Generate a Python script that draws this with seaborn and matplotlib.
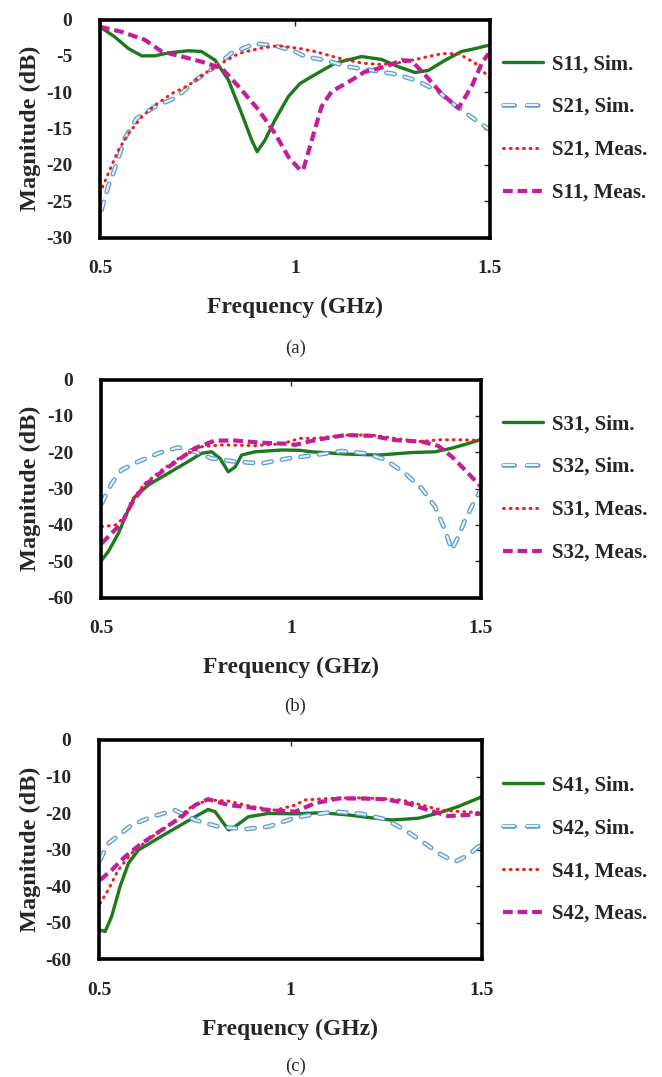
import numpy as np
import seaborn as sns
import matplotlib.pyplot as plt
import matplotlib.patheffects as pe
from matplotlib.lines import Line2D

# ---- panel (a) ----
a_s11_sim_f = [0.5, 0.538, 0.573, 0.607, 0.641, 0.675, 0.726, 0.76, 0.795, 0.829, 0.863, 0.889, 0.903, 0.923, 0.949,
               0.983, 1.013, 1.051, 1.103, 1.171, 1.222, 1.265, 1.308, 1.342, 1.385, 1.427, 1.462, 1.5]
a_s11_sim_db = [-1.0, -2.4, -4.0, -5.0, -5.0, -4.6, -4.3, -4.4, -5.6, -8.3, -12.9, -16.6, -18.2, -16.6, -13.8,
                -10.6, -8.8, -7.6, -6.0, -5.1, -5.5, -6.5, -7.3, -7.0, -5.6, -4.4, -4.0, -3.5]
a_s21_sim_f = [0.504, 0.521, 0.543, 0.564, 0.594, 0.641, 0.697, 0.744, 0.795, 0.838, 0.898, 0.949, 1.0,
               1.026, 1.077, 1.137, 1.197, 1.256, 1.312, 1.367, 1.41, 1.462, 1.5]
a_s21_sim_db = [-26.2, -23.0, -19.8, -16.3, -13.6, -12.0, -10.7, -8.4, -6.5, -4.6, -3.3, -3.6, -4.4,
                -5.1, -5.6, -6.5, -7.0, -7.5, -8.4, -9.9, -11.8, -13.8, -15.2]
a_s21_meas_f = [0.5, 0.521, 0.547, 0.573, 0.607, 0.641, 0.684, 0.726, 0.769, 0.812, 0.855, 0.906, 0.957, 1.013,
                1.051, 1.111, 1.171, 1.222, 1.274, 1.325, 1.376, 1.419, 1.462, 1.5]
a_s21_meas_db = [-23.9, -21.2, -18.0, -15.7, -13.4, -11.8, -10.2, -9.1, -7.4, -6.0, -4.7, -4.0, -3.6, -4.0,
                 -4.4, -5.3, -6.0, -6.2, -5.9, -5.3, -4.7, -4.7, -6.0, -8.1]
a_s11_meas_f = [0.5, 0.556, 0.615, 0.658, 0.71, 0.76, 0.812, 0.855, 0.906, 0.949, 0.983, 1.013, 1.021, 1.043,
                1.068, 1.094, 1.137, 1.179, 1.231, 1.274, 1.299, 1.333, 1.376, 1.419, 1.453, 1.479, 1.496]
a_s11_meas_db = [-1.0, -1.7, -2.8, -4.4, -5.1, -5.8, -6.7, -9.2, -12.4, -15.7, -18.9, -20.7, -20.7, -16.6,
                 -12.0, -9.9, -8.6, -7.2, -6.5, -5.6, -5.7, -7.6, -10.2, -12.2, -9.2, -6.0, -4.7]

# ---- panel (b) ----
b_s31_sim_f = [0.502, 0.519, 0.546, 0.568, 0.589, 0.625, 0.677, 0.721, 0.765, 0.791, 0.813, 0.835, 0.853, 0.87,
               0.905, 0.976, 1.024, 1.054, 1.142, 1.23, 1.318, 1.379, 1.423, 1.467, 1.5]
b_s31_sim_db = [-49.7, -47.4, -42.3, -36.8, -32.3, -29.0, -25.8, -23.1, -20.3, -19.9, -21.7, -25.4, -24.1, -20.8,
                -19.9, -19.4, -19.5, -19.9, -20.5, -20.8, -20.1, -19.9, -18.9, -17.6, -16.5]
b_s32_sim_f = [0.502, 0.528, 0.554, 0.598, 0.651, 0.703, 0.747, 0.791, 0.853, 0.923, 0.993, 1.063, 1.133,
               1.195, 1.247, 1.3, 1.344, 1.379, 1.405, 1.423, 1.44, 1.458, 1.484, 1.5]
b_s32_sim_db = [-34.1, -28.6, -24.9, -22.6, -20.3, -18.7, -19.9, -21.7, -22.6, -23.1, -21.7, -20.8, -19.7,
                -20.3, -22.0, -25.8, -30.0, -35.0, -41.4, -46.9, -43.3, -38.7, -33.2, -30.4]
b_s31_meas_f = [0.502, 0.537, 0.563, 0.581, 0.616, 0.66, 0.712, 0.765, 0.818, 0.905, 0.976, 1.024, 1.063,
                1.142, 1.212, 1.274, 1.335, 1.388, 1.449, 1.5]
b_s31_meas_db = [-40.5, -40.1, -37.8, -33.2, -28.6, -24.9, -21.2, -18.5, -18.0, -18.2, -17.7, -16.2, -16.2,
                 -15.3, -15.3, -16.2, -17.1, -16.6, -16.6, -16.8]
b_s32_meas_f = [0.502, 0.528, 0.554, 0.581, 0.616, 0.66, 0.703, 0.747, 0.8, 0.853, 0.923, 0.993, 1.011, 1.063,
                1.142, 1.212, 1.274, 1.344, 1.388, 1.423, 1.458, 1.5]
b_s32_meas_db = [-45.1, -42.3, -39.6, -34.1, -29.0, -25.4, -22.2, -18.9, -16.8, -16.8, -17.4, -17.7, -18.0, -16.7,
                 -15.3, -15.5, -16.7, -17.1, -18.3, -21.2, -24.9, -29.5]

# ---- panel (c) ----
c_s41_sim_f = [0.503, 0.516, 0.533, 0.555, 0.577, 0.603, 0.646, 0.698, 0.751, 0.785, 0.803, 0.838, 0.855, 0.89,
               0.942, 1.012, 1.081, 1.151, 1.212, 1.264, 1.334, 1.386, 1.438, 1.5]
c_s41_sim_db = [-52.0, -52.4, -48.3, -40.1, -33.7, -30.1, -27.4, -24.2, -21.0, -19.0, -19.6, -24.6, -23.7, -21.0,
                -20.1, -20.2, -19.9, -20.5, -21.3, -21.9, -21.4, -20.0, -18.2, -15.5]
c_s42_sim_f = [0.503, 0.524, 0.546, 0.585, 0.638, 0.698, 0.751, 0.811, 0.881, 0.942, 1.012, 1.047, 1.116, 1.186,
               1.247, 1.299, 1.351, 1.395, 1.43, 1.464, 1.5]
c_s42_sim_db = [-32.8, -28.3, -26.5, -23.3, -21.0, -19.2, -21.9, -23.7, -24.4, -23.7, -21.3, -20.6, -19.6, -20.2,
                -21.7, -24.6, -28.3, -31.5, -33.3, -31.5, -28.3]
c_s41_meas_f = [0.503, 0.524, 0.55, 0.585, 0.638, 0.69, 0.742, 0.785, 0.838, 0.899, 0.96, 1.012, 1.038, 1.099,
                1.168, 1.229, 1.29, 1.343, 1.395, 1.447, 1.5]
c_s41_meas_db = [-44.7, -41.0, -35.6, -31.0, -26.5, -22.8, -18.2, -16.4, -16.7, -18.2, -19.2, -17.8, -16.4, -16.0,
                 -15.8, -16.0, -16.4, -17.8, -19.2, -19.6, -19.9]
c_s42_meas_f = [0.503, 0.533, 0.568, 0.611, 0.664, 0.716, 0.751, 0.785, 0.838, 0.89, 0.942, 1.012, 1.064, 1.125,
                1.186, 1.247, 1.308, 1.36, 1.412, 1.464, 1.5]
c_s42_meas_db = [-38.3, -35.6, -31.9, -28.3, -24.6, -21.0, -17.8, -16.2, -17.8, -18.4, -19.2, -19.6, -17.3, -16.0,
                 -16.0, -16.2, -17.4, -19.2, -20.8, -20.5, -20.1]

x_ticks = [0.5, 1, 1.5]
x_ticklabels = ['0.5', '1', '1.5']

panels = [
    ('(a)', (-30, 0), 5,
     [(a_s11_sim_f, a_s11_sim_db, 'S11, Sim.'), (a_s21_sim_f, a_s21_sim_db, 'S21, Sim.'),
      (a_s21_meas_f, a_s21_meas_db, 'S21, Meas.'), (a_s11_meas_f, a_s11_meas_db, 'S11, Meas.')]),
    ('(b)', (-60, 0), 10,
     [(b_s31_sim_f, b_s31_sim_db, 'S31, Sim.'), (b_s32_sim_f, b_s32_sim_db, 'S32, Sim.'),
      (b_s31_meas_f, b_s31_meas_db, 'S31, Meas.'), (b_s32_meas_f, b_s32_meas_db, 'S32, Meas.')]),
    ('(c)', (-60, 0), 10,
     [(c_s41_sim_f, c_s41_sim_db, 'S41, Sim.'), (c_s42_sim_f, c_s42_sim_db, 'S42, Sim.'),
      (c_s41_meas_f, c_s41_meas_db, 'S41, Meas.'), (c_s42_meas_f, c_s42_meas_db, 'S42, Meas.')]),
]

sns.set_style('white')
plt.rcParams['font.family'] = ['Liberation Serif', 'DejaVu Serif']
plt.rcParams['lines.scale_dashes'] = False
plt.rcParams['axes.unicode_minus'] = False

GREEN = '#1c7a1c'
BLUE_EDGE = '#5f9ed3'
BLUE_FILL = '#e9f2fa'
RED = '#e8231a'
MAGENTA = '#c51c9e'
blue_outline = [pe.Stroke(linewidth=3.4, foreground=BLUE_EDGE), pe.Normal()]

W, H = 662, 1077
fig = plt.figure(figsize=(W / 100, H / 100), dpi=100)
# axes boxes in pixels: left, right, top, bottom
boxes_px = [(100, 490, 19.5, 237.5), (101, 481, 379.5, 597.5), (99, 482, 740, 959.3)]
caption_y = [0.677, 0.344, 0.010]

for (cap, ylim, ystep, series), (l, r, t, b), cy in zip(panels, boxes_px, caption_y):
    ax = fig.add_axes([l / W, 1 - b / H, (r - l) / W, (b - t) / H])
    handles = []
    f, d, lab = series[0]
    sns.lineplot(x=f, y=d, ax=ax, sort=False, estimator=None, color=GREEN, lw=2.4)
    handles.append((ax.lines[-1], lab))
    # outlined light-blue dashes
    f, d, lab = series[1]
    sns.lineplot(x=f, y=d, ax=ax, sort=False, estimator=None, color=BLUE_FILL, lw=1.5,
                 linestyle=(0, (6, 7.5)), dash_capstyle='round', path_effects=blue_outline)
    handles.append((Line2D([], [], color=BLUE_FILL, lw=1.5, linestyle=(0, (8, 9)),
                           dash_capstyle='round', path_effects=blue_outline), lab))
    f, d, lab = series[2]
    sns.lineplot(x=f, y=d, ax=ax, sort=False, estimator=None, color=RED, lw=2.2,
                 linestyle=(0, (0.6, 4.2)), dash_capstyle='round')
    handles.append((ax.lines[-1], lab))
    f, d, lab = series[3]
    sns.lineplot(x=f, y=d, ax=ax, sort=False, estimator=None, color=MAGENTA, lw=3.0,
                 linestyle=(0, (7, 3.5)))
    handles.append((ax.lines[-1], lab))

    ax.set_xlim(0.5, 1.5)
    ax.set_ylim(*ylim)
    ax.set_xticks(x_ticks)
    ax.set_xticklabels(x_ticklabels)
    ax.set_yticks(np.arange(ylim[0], ylim[1] + 1, ystep))
    ax.tick_params(axis='both', direction='in', length=4, width=1.0, top=True, right=True,
                   labelsize=14)
    ax.tick_params(axis='x', pad=16)
    ax.tick_params(axis='y', pad=20)
    for lbl in ax.get_xticklabels() + ax.get_yticklabels():
        lbl.set_fontweight('bold')
    for sp in ax.spines.values():
        sp.set_linewidth(2.6)
        sp.set_color('black')
    ax.set_xlabel('Frequency (GHz)', fontsize=17, fontweight='bold')
    ax.set_ylabel('Magnitude (dB)', fontsize=17.5, fontweight='bold')
    ax.xaxis.set_label_coords(0.5, -0.27)
    ax.yaxis.set_label_coords((41 - l) / (r - l), 0.5)

    ax.legend([h for h, _ in handles], [lb for _, lb in handles],
              loc='center left', bbox_to_anchor=(503 / W, 1 - (t + b) / 2 / H),
              bbox_transform=fig.transFigure, frameon=False, borderaxespad=0, borderpad=0,
              handlelength=1.9, handletextpad=0.45, labelspacing=1.1,
              prop={'family': 'Liberation Serif', 'weight': 'bold', 'size': 15})
    fig.text(0.446, cy, cap, ha='center', va='center', fontsize=13.5)

fig.savefig('out.png', dpi=100)
